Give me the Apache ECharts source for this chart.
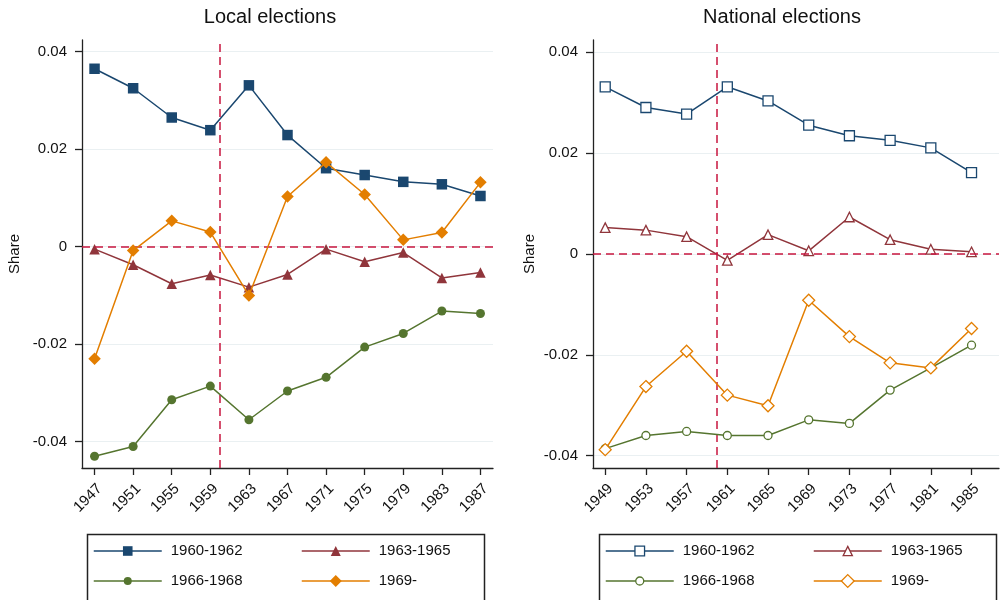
<!DOCTYPE html>
<html>
<head>
<meta charset="utf-8">
<script src="https://cdn.jsdelivr.net/npm/echarts@6/dist/echarts.min.js"></script>
<style>
  html, body { margin: 0; padding: 0; background: #fff; }
  #chart { width: 1000px; height: 600px; }
</style>
</head>
<body>
<div id="chart"></div>
<script>
// Election years for each panel
const localYears = [1947, 1951, 1955, 1959, 1963, 1967, 1971, 1975, 1979, 1983, 1987];
const nationalYears = [1949, 1953, 1957, 1961, 1965, 1969, 1973, 1977, 1981, 1985];

// Birth cohorts
const cohortNames = ['1960-1962', '1963-1965', '1966-1968', '1969-'];

// Local elections: share by cohort
const local6062 = [0.0365, 0.0325, 0.0265, 0.0239, 0.0331, 0.0229, 0.0161, 0.0147, 0.0133, 0.0128, 0.0104];
const local6365 = [-0.0005, -0.0037, -0.0076, -0.0058, -0.0083, -0.0057, -0.0005, -0.0031, -0.0012, -0.0064, -0.0053];
const local6668 = [-0.0430, -0.0410, -0.0314, -0.0286, -0.0355, -0.0296, -0.0268, -0.0206, -0.0178, -0.0132, -0.0137];
const local69 = [-0.0230, -0.0008, 0.0053, 0.0030, -0.0100, 0.0103, 0.0173, 0.0107, 0.0014, 0.0029, 0.0132];

// National elections: share by cohort
const national6062 = [0.0331, 0.0290, 0.0277, 0.0331, 0.0303, 0.0255, 0.0234, 0.0225, 0.0210, 0.0161];
const national6365 = [0.0052, 0.0047, 0.0034, -0.0013, 0.0038, 0.0006, 0.0073, 0.0028, 0.0009, 0.0004];
const national6668 = [-0.0386, -0.0360, -0.0352, -0.0360, -0.0360, -0.0329, -0.0336, -0.0270, -0.0226, -0.0181];
const national69 = [-0.0388, -0.0263, -0.0193, -0.0280, -0.0301, -0.0092, -0.0164, -0.0216, -0.0226, -0.0148];

// Axis ticks and reference lines
const shareTicks = [-0.04, -0.02, 0, 0.02, 0.04];
const localYearTicks = localYears;
const nationalYearTicks = nationalYears;
const cutoffYear = 1960;
const zeroShare = 0;

const FONT = '"Liberation Sans", Arial, Helvetica, sans-serif';
const colors = ['#1a476f', '#90353b', '#55752f', '#e37e00'];
const symbols = ['rect', 'triangle', 'circle', 'diamond'];
const localSizes = [10.5, 10.5, 9, 12.5];
const nationalSizes = [10, 9.5, 8, 12];
const refColor = '#c8163f';

const localSeriesData = [local6062, local6365, local6668, local69];
const nationalSeriesData = [national6062, national6365, national6668, national69];

function pairs(xs, ys) {
  return xs.map((x, i) => [x, ys[i]]);
}

function refLines() {
  return {
    silent: true,
    symbol: 'none',
    label: { show: false },
    lineStyle: { color: refColor, width: 1.5, type: [8, 5] },
    data: [{ yAxis: zeroShare }, { xAxis: cutoffYear }]
  };
}

const series = [];
localSeriesData.forEach((vals, k) => {
  series.push({
    name: cohortNames[k], type: 'line', xAxisIndex: 0, yAxisIndex: 0,
    data: pairs(localYears, vals),
    symbol: symbols[k], symbolSize: localSizes[k],
    lineStyle: { color: colors[k], width: 1.5 },
    itemStyle: { color: colors[k] },
    z: 3 + k,
    markLine: k === 0 ? refLines() : undefined
  });
});
nationalSeriesData.forEach((vals, k) => {
  series.push({
    name: cohortNames[k], type: 'line', xAxisIndex: 1, yAxisIndex: 1,
    data: pairs(nationalYears, vals),
    symbol: symbols[k], symbolSize: nationalSizes[k],
    lineStyle: { color: colors[k], width: 1.5 },
    itemStyle: { color: '#fff', borderColor: colors[k], borderWidth: 1.3 },
    z: 3 + k,
    markLine: k === 0 ? refLines() : undefined
  });
});

function yAxisDef(gridIndex, min, max, nameGap) {
  return {
    type: 'value', gridIndex, min, max,
    name: 'Share', nameLocation: 'middle', nameGap, nameRotate: 90,
    nameTextStyle: { fontFamily: FONT, fontSize: 15, color: '#111' },
    axisLine: { show: true, onZero: false, lineStyle: { color: '#222', width: 1.3 } },
    axisTick: { show: true, length: 7, customValues: shareTicks, lineStyle: { color: '#222', width: 1.3 } },
    axisLabel: { customValues: shareTicks, margin: 15, fontFamily: FONT, fontSize: 15, color: '#111' },
    splitLine: { show: true, lineStyle: { color: '#eaf0f2', width: 1 } }
  };
}
function xAxisDef(gridIndex, min, max, ticks) {
  return {
    type: 'value', gridIndex, min, max,
    axisLine: { show: true, onZero: false, lineStyle: { color: '#222', width: 1.3 } },
    axisTick: { show: true, length: 7, customValues: ticks, lineStyle: { color: '#222', width: 1.3 } },
    axisLabel: { customValues: ticks, rotate: 45, margin: 13, verticalAlign: 'top',
                 fontFamily: FONT, fontSize: 15, color: '#111', formatter: v => String(v) },
    splitLine: { show: false }
  };
}

// Legend: one component per entry, laid out in a 2x2 block under each panel
function legendEntry(k, left, centerY, hollow, h) {
  return {
    data: [{
      name: cohortNames[k],
      itemStyle: hollow
        ? { color: '#fff', borderColor: colors[k], borderWidth: 1.3 }
        : { color: colors[k], borderColor: colors[k], borderWidth: 0 },
      lineStyle: { color: colors[k], width: 1.5 }
    }],
    left, top: centerY - 10,
    itemWidth: 68, itemHeight: h, padding: 0, selectedMode: false,
    textStyle: { fontFamily: FONT, fontSize: 15, lineHeight: 20, color: '#111', padding: [0, 0, 0, 4] }
  };
}
const localLegendH = [12, 12.5, 10, 15];
const nationalLegendH = [12, 11.5, 10, 16];
const legends = [];
[[93, 551], [301, 551], [93, 581], [301, 581]].forEach((p, k) => legends.push(legendEntry(k, p[0], p[1], false, localLegendH[k])));
[[605, 551], [813, 551], [605, 581], [813, 581]].forEach((p, k) => legends.push(legendEntry(k, p[0], p[1], true, nationalLegendH[k])));

const option = {
  backgroundColor: '#fff',
  animation: false,
  textStyle: { fontFamily: FONT },
  title: [
    { text: 'Local elections', left: 270, top: 7, textAlign: 'center', padding: 0,
      textStyle: { fontFamily: FONT, fontSize: 20, fontWeight: 'normal', color: '#111' } },
    { text: 'National elections', left: 782, top: 7, textAlign: 'center', padding: 0,
      textStyle: { fontFamily: FONT, fontSize: 20, fontWeight: 'normal', color: '#111' } }
  ],
  grid: [
    { left: 82, top: 40, width: 411, height: 428 },
    { left: 593, top: 40, width: 406, height: 428 }
  ],
  xAxis: [
    xAxisDef(0, 1945.7, 1988.3, localYearTicks),
    xAxisDef(1, 1947.8, 1987.7, nationalYearTicks)
  ],
  yAxis: [
    yAxisDef(0, -0.0454, 0.0424, 60),
    yAxisDef(1, -0.04244, 0.04238, 56)
  ],
  legend: legends,
  graphic: [
    { type: 'rect', left: 85, top: 532, shape: { width: 397, height: 67 }, silent: true,
      style: { fill: 'none', stroke: '#222', lineWidth: 1.5 } },
    { type: 'rect', left: 597, top: 532, shape: { width: 397, height: 67 }, silent: true,
      style: { fill: 'none', stroke: '#222', lineWidth: 1.5 } }
  ],
  series
};

const chart = echarts.init(document.getElementById('chart'), null, { renderer: 'canvas' });
chart.setOption(option);
</script>
</body>
</html>
